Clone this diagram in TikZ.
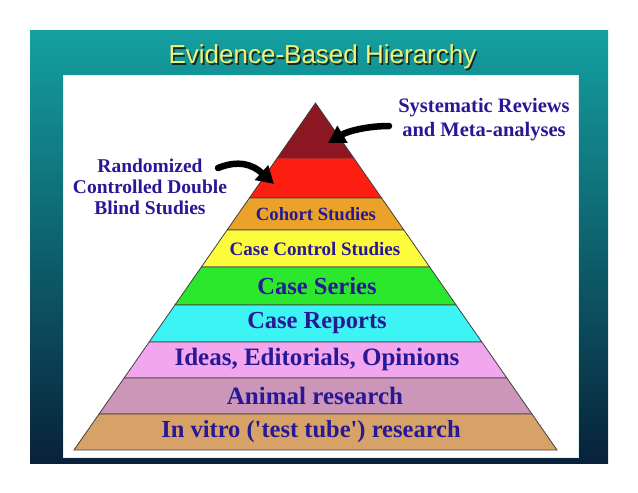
\documentclass[tikz,border=0pt]{standalone}
\usepackage{fontspec}
\setmainfont{Liberation Serif}
\newfontfamily\titlefont{Liberation Sans}
\usetikzlibrary{arrows.meta}
\definecolor{slideTop}{RGB}{20,160,160}
\definecolor{slideBot}{RGB}{8,34,58}
\definecolor{titleYellow}{RGB}{240,242,120}
\definecolor{titleShadow}{RGB}{20,40,40}
\definecolor{inkBlue}{RGB}{40,24,150}
\definecolor{cA}{RGB}{140,22,34}
\definecolor{cB}{RGB}{252,30,16}
\definecolor{cC}{RGB}{234,162,40}
\definecolor{cD}{RGB}{252,252,60}
\definecolor{cE}{RGB}{44,232,44}
\definecolor{cF}{RGB}{60,244,244}
\definecolor{cG}{RGB}{242,166,238}
\definecolor{cH}{RGB}{204,150,184}
\definecolor{cI}{RGB}{214,162,104}
\newcommand{\titletext}{Evidence-Based Hierarchy}
\tikzset{
  layerlabel/.style={text=inkBlue, font=\bfseries, inner sep=0pt},
  sidelabel/.style={text=inkBlue, font=\bfseries, align=center, inner sep=0pt},
  bigarrow/.style={line width=6.5pt, line cap=round, -{Triangle[length=17pt,width=19pt]}},
  band/.style={draw=black!75, line width=0.8pt}
}
\begin{document}
\begin{tikzpicture}[x=1pt,y=-1pt]
\useasboundingbox (0,0) rectangle (638,493);
\fill[white] (0,0) rectangle (638,493);
\shade[top color=slideTop, bottom color=slideBot] (30,30) rectangle (608,463);
\filldraw[fill=white, draw=white!85!slideTop, line width=0.8pt] (63,75) rectangle (578,457);
% title with drop shadow (one node)
\node (title) [font=\titlefont\fontsize{26}{30}\selectfont, inner sep=0pt] at (322.5,58)
  {\makebox[0pt][l]{\hspace{1.6pt}\raisebox{-1.8pt}{\textcolor{titleShadow}{\titletext}}}\textcolor{titleYellow}{\titletext}};
% pyramid bands
\foreach \ya/\yb/\col in {103/158/cA,158/198/cB,198/230/cC,230/267/cD,267/305/cE,305/342/cF,342/378/cG,378/414/cH,414/450/cI}{
  \pgfmathsetmacro\ha{0.696*(\ya-103)}
  \pgfmathsetmacro\hb{0.696*(\yb-103)}
  \filldraw[band, fill=\col] (315.5-\ha,\ya) -- (315.5+\ha,\ya) -- (315.5+\hb,\yb) -- (315.5-\hb,\yb) -- cycle;
}
% layer labels
\node (cohort) [layerlabel, font=\bfseries\fontsize{18.7}{22}\selectfont] at (316,214) {Cohort Studies};
\node (casecontrol) [layerlabel, font=\bfseries\fontsize{19}{22}\selectfont] at (315,249) {Case Control Studies};
\node (series) [layerlabel, font=\bfseries\fontsize{24.5}{28}\selectfont] at (317,286) {Case Series};
\node (reports) [layerlabel, font=\bfseries\fontsize{24.5}{28}\selectfont] at (317,323) {Case Reports};
\node (ideas) [layerlabel, font=\bfseries\fontsize{25}{28}\selectfont] at (317,359) {Ideas, Editorials, Opinions};
\node (animal) [layerlabel, font=\bfseries\fontsize{25}{28}\selectfont] at (315,396) {Animal research};
\node (invitro) [layerlabel, font=\bfseries\fontsize{24.5}{28}\selectfont] at (311,432) {In vitro (\textquotesingle test tube\textquotesingle) research};
% side labels
\node (rct) [sidelabel, font=\bfseries\fontsize{19.5}{21}\selectfont] at (150,187) {Randomized\\Controlled Double\\Blind Studies};
\node (sr) [sidelabel, font=\bfseries\fontsize{20.5}{24}\selectfont] at (484,120) {Systematic Reviews\\and Meta-analyses};
% arrows
\coordinate (rctTail) at (218,168);
\coordinate (rctTip) at (274,184);
\coordinate (srTail) at (389,126);
\coordinate (srTip) at (328,143);
\draw[bigarrow] (rctTail) .. controls (238,160) and (252,164) .. (rctTip);
\draw[bigarrow] (srTail) .. controls (368,126) and (348,131) .. (srTip);
\end{tikzpicture}
\end{document}
